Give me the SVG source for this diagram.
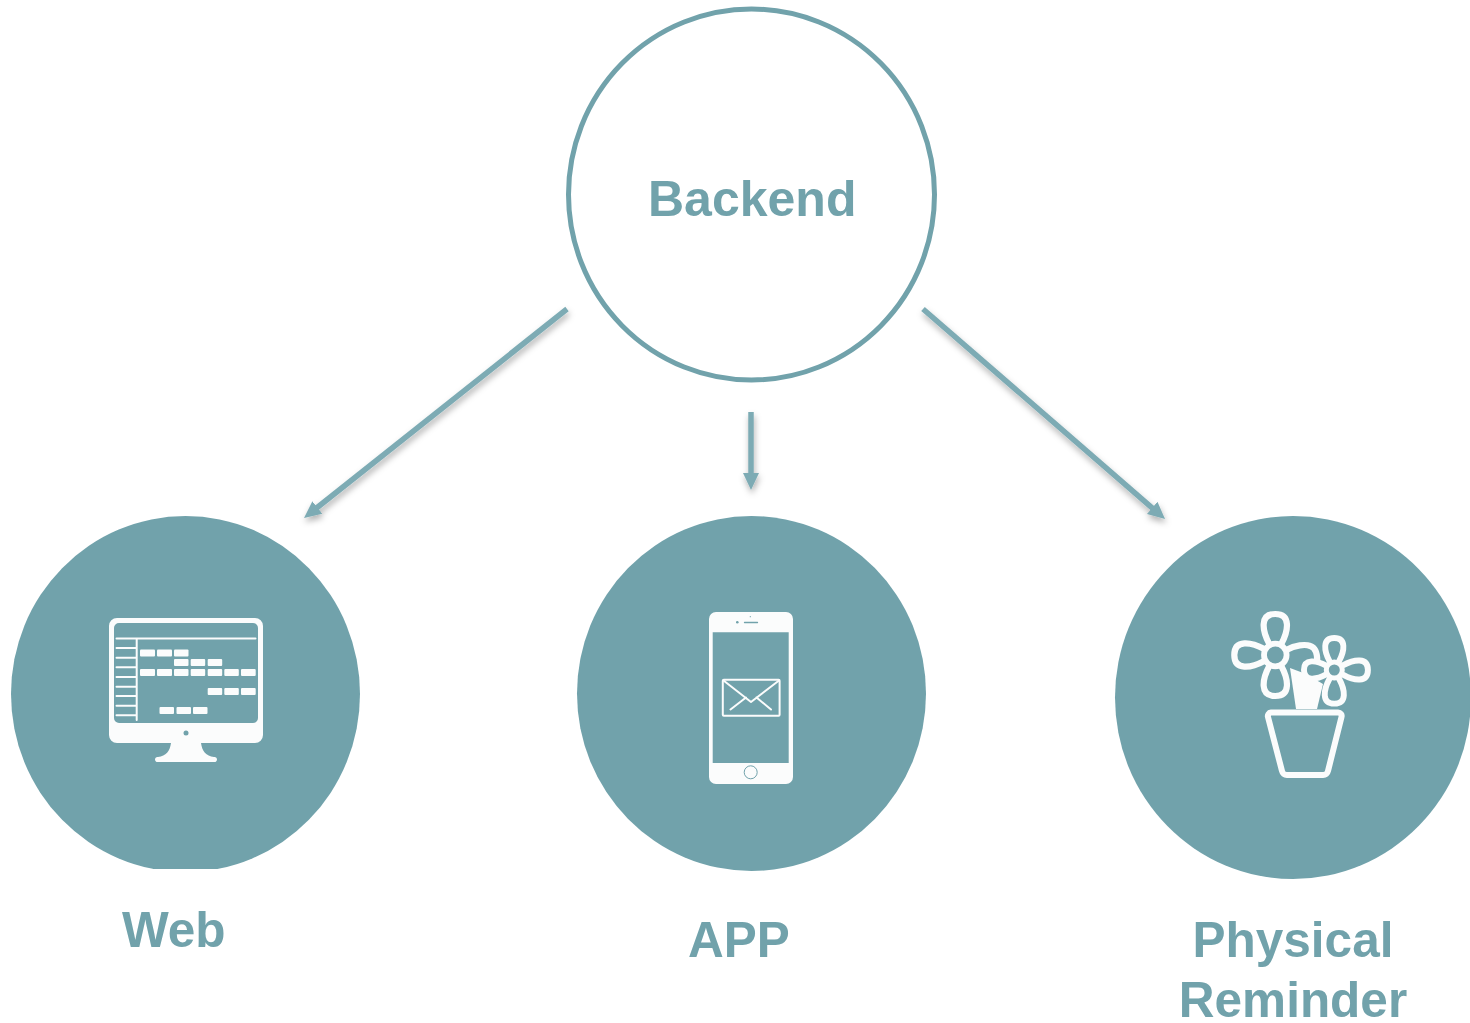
<svg xmlns="http://www.w3.org/2000/svg" width="1470" height="1023" viewBox="0 0 1470 1023">
<style>
.fill{fill:#71a2ab}
.label{font-family:"Liberation Sans",Arial,sans-serif;font-weight:700;font-size:49.500px;fill:#71a2ab}
.big{font-size:50px}
.w{fill:#fbfcfc}
.ws{fill:none;stroke:#fbfcfc;stroke-linecap:round;stroke-linejoin:round}
.fl{fill:#71a2ab;stroke:#fbfcfc;stroke-linecap:round;stroke-linejoin:round}
.arrow{fill:none;stroke:#7dabb4;stroke-width:5.500;marker-end:url(#head)}
</style>
<defs>
<marker id="head" markerUnits="userSpaceOnUse" markerWidth="20" markerHeight="20" viewBox="0 0 20 20" refX="9" refY="10" orient="auto"><path d="M0,2 L17,10 L0,18 Z" fill="#7dabb4"/></marker>
<filter id="sh" x="250" y="290" width="960" height="260" filterUnits="userSpaceOnUse"><feDropShadow dx="1" dy="4" stdDeviation="3" flood-color="#000" flood-opacity="0.3"/></filter>
<clipPath id="webclip"><rect x="0" y="500" width="400" height="369"/></clipPath>
<path id="petal" d="M-6,-11 C-13,-24 -16,-41 0,-41 C16,-41 13,-24 6,-11"/>
</defs>
<rect width="1470" height="1023" fill="#fff"/>
<g id="connectors" filter="url(#sh)">
<path class="arrow" d="M567,309 L310.300,513"/>
<path class="arrow" d="M751,412 L751,482"/>
<path class="arrow" d="M923,309 L1159,513.800"/>
</g>
<g id="backend">
<ellipse cx="751.500" cy="194.500" rx="183" ry="185.500" fill="#fff" stroke="#71a2ab" stroke-width="5"/>
<text class="label big" x="648" y="216">Backend</text>
</g>
<g id="web">
<ellipse class="fill" cx="185.500" cy="694" rx="174.500" ry="178" clip-path="url(#webclip)"/>
<path class="w" fill-rule="evenodd" d="M117,618 H255 a8,8 0 0 1 8,8 V735 a8,8 0 0 1 -8,8 H117 a8,8 0 0 1 -8,-8 V626 a8,8 0 0 1 8,-8 Z M119,623 a5,5 0 0 0 -5,5 V718 a5,5 0 0 0 5,5 H253 a5,5 0 0 0 5,-5 V628 a5,5 0 0 0 -5,-5 Z"/>
<circle cx="186" cy="733" r="2.500" fill="#71a2ab"/>
<path class="w" d="M171,743 H201 C202,751 206,756 214,757 a2.500,2.500 0 0 1 3,2.500 a2.500,2.500 0 0 1 -3,2.500 H158 a2.500,2.500 0 0 1 -3,-2.500 a2.500,2.500 0 0 1 3,-2.500 C166,756 170,751 171,743 Z"/>
<path class="ws" stroke-width="2" d="M116.500,638.500 H255.500 M136.700,638.500 V720 M116.500,648 H136 M116.500,657.700 H136 M116.500,667.300 H136 M116.500,677 H136 M116.500,686.700 H136 M116.500,696 H136 M116.500,705.700 H136 M116.500,715.300 H136"/>
<g class="w">
<rect x="140" y="649.500" width="15" height="7" rx="1"/><rect x="157" y="649.500" width="15" height="7" rx="1"/><rect x="174" y="649.500" width="14.500" height="7" rx="1"/>
<rect x="174" y="659" width="14.500" height="7" rx="1"/><rect x="190.700" y="659" width="14.500" height="7" rx="1"/><rect x="207.700" y="659" width="14.500" height="7" rx="1"/>
<rect x="140" y="669" width="15" height="7" rx="1"/><rect x="157" y="669" width="15" height="7" rx="1"/><rect x="174" y="669" width="14.500" height="7" rx="1"/><rect x="190.700" y="669" width="14.500" height="7" rx="1"/><rect x="207.700" y="669" width="14.500" height="7" rx="1"/><rect x="224.300" y="669" width="14.500" height="7" rx="1"/><rect x="241" y="669" width="14.700" height="7" rx="1"/>
<rect x="207.700" y="688" width="14.500" height="7" rx="1"/><rect x="224.300" y="688" width="14.500" height="7" rx="1"/><rect x="241" y="688" width="14.700" height="7" rx="1"/>
<rect x="159.500" y="707" width="14.500" height="7" rx="1"/><rect x="176.500" y="707" width="14.500" height="7" rx="1"/><rect x="193" y="707" width="14.500" height="7" rx="1"/>
</g>
<text class="label" x="122" y="947">Web</text>
</g>
<g id="app">
<ellipse class="fill" cx="751.500" cy="693.500" rx="174.500" ry="177.500"/>
<path class="w" fill-rule="evenodd" d="M716,612 H786 a7,7 0 0 1 7,7 V777 a7,7 0 0 1 -7,7 H716 a7,7 0 0 1 -7,-7 V619 a7,7 0 0 1 7,-7 Z M712.700,632.300 V763 H788.700 V632.300 Z"/>
<circle cx="750.700" cy="772.300" r="6.500" fill="none" stroke="#71a2ab" stroke-width="1"/>
<circle cx="737.300" cy="622.300" r="1.300" fill="#71a2ab"/>
<circle cx="750.300" cy="616.700" r=".6" fill="#71a2ab"/>
<path d="M744.500,622.500 H757.500" stroke="#71a2ab" stroke-width="1.300" stroke-linecap="round"/>
<rect class="ws" x="722.800" y="679.800" width="56.800" height="35.900" rx="1" stroke-width="2"/>
<path class="ws" stroke-width="2" d="M723.500,680.500 L751,702 L779,680.500 M730.500,709.500 L746,697.500 M771,709.500 L756.500,697.500"/>
<text class="label" x="688" y="957">APP</text>
</g>
<g id="physical-reminder">
<ellipse class="fill" cx="1293" cy="697.500" rx="178" ry="181.500"/>
<path class="w" d="M1290,668 L1296,709 H1317 L1323,684 L1306,674 Z"/>
<g class="fl" stroke-width="6.200" transform="translate(1275.300,655)">
<use href="#petal"/>
<use href="#petal" transform="rotate(180)"/>
<use href="#petal" transform="rotate(-90)"/>
<path d="M11,-5 C20,-10 30,-11 35,-9 C41,-7 42,-1 42,6" fill="none"/>
<circle r="11.300" stroke-width="5.800"/>
</g>
<g class="fl" transform="translate(1334.300,670)">
<use href="#petal" transform="scale(.78)" stroke-width="7.500"/>
<use href="#petal" transform="rotate(180) scale(.82)" stroke-width="7.200"/>
<use href="#petal" transform="rotate(90) scale(.82)" stroke-width="7.200"/>
<use href="#petal" transform="rotate(-90) scale(.74)" stroke-width="8"/>
<circle r="8" stroke-width="5"/>
</g>
<path class="ws" stroke-width="6" d="M1271,712.500 H1338 a3.500,3.500 0 0 1 3.500,4.500 L1328,771 a5,5 0 0 1 -5,4 H1287 a5,5 0 0 1 -5,-4 L1268,717 a3.500,3.500 0 0 1 3,-4.500 Z"/>
<text class="label" x="1293" y="957" text-anchor="middle">Physical</text>
<text class="label" x="1293" y="1017" text-anchor="middle">Reminder</text>
</g>
</svg>
